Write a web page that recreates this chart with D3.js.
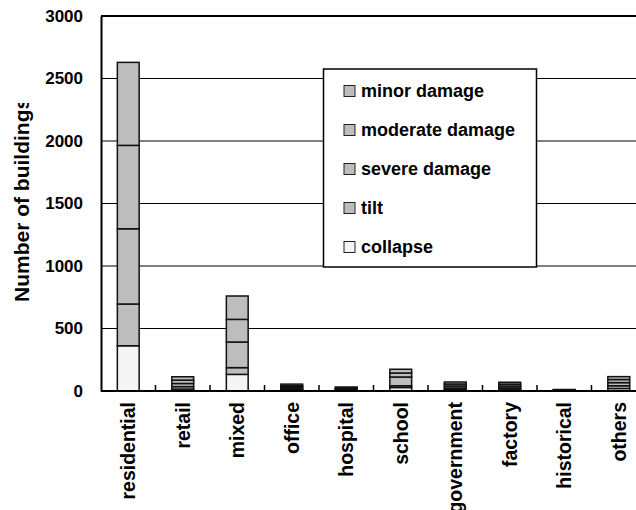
<!DOCTYPE html>
<html><head><meta charset="utf-8">
<script src="https://cdn.jsdelivr.net/npm/d3@7/dist/d3.min.js"></script>
<style>body{margin:0;background:#fff;}svg{display:block;}text{font-family:"Liberation Sans",Arial,sans-serif;font-weight:bold;fill:#000;}</style>
</head><body>
<svg id="c" width="636" height="510"></svg>
<script>
const categories = ["residential","retail","mixed","office","hospital","school","government","factory","historical","others"];
const collapse = [362, 15, 133, 10, 6, 28, 12, 15, 2, 20];
const tilt     = [334, 20, 54, 8, 6, 14, 12, 10, 2, 22];
const severe   = [602, 25, 205, 12, 6, 70, 16, 15, 3, 25];
const moderate = [667, 27, 181, 12, 7, 32, 16, 15, 3, 25];
const minor    = [664, 27, 187, 13, 7, 30, 16, 15, 2, 23];
const seriesNames = ["collapse","tilt","severe damage","moderate damage","minor damage"];
const seriesColors = ["#f5f5f5","#bdbdbd","#bdbdbd","#bdbdbd","#bdbdbd"];
const yTicks = [0,500,1000,1500,2000,2500,3000];

const svg = d3.select("#c");
const L = 101, R = 646, T = 16, B = 391;
const x = d3.scaleBand().domain(categories).range([L, R]).paddingInner(0.6).paddingOuter(0.3);
const y = d3.scaleLinear().domain([0, 3000]).range([B, T]);

// gridlines
svg.append("g").selectAll("line").data(yTicks.filter(d => d > 0 && d < 3000)).join("line")
  .attr("x1", L).attr("x2", R).attr("y1", d => y(d)).attr("y2", d => y(d))
  .attr("stroke", "#000").attr("stroke-width", 1);
// top border
svg.append("line").attr("x1", L).attr("x2", R).attr("y1", y(3000)).attr("y2", y(3000))
  .attr("stroke", "#000").attr("stroke-width", 2);

// stacked data
const rows = categories.map((c, i) => ({cat: c, s0: collapse[i], s1: tilt[i], s2: severe[i], s3: moderate[i], s4: minor[i]}));
const stack = d3.stack().keys(["s0","s1","s2","s3","s4"])(rows);
const gBars = svg.append("g");
stack.forEach((layer, li) => {
  gBars.append("g").selectAll("rect").data(layer).join("rect")
    .attr("x", d => x(d.data.cat)).attr("width", x.bandwidth())
    .attr("y", d => y(d[1])).attr("height", d => y(d[0]) - y(d[1]))
    .attr("fill", seriesColors[li]).attr("stroke", "#111").attr("stroke-width", 1.5);
});

// axes
const yAxis = d3.axisLeft(y).tickValues(yTicks).tickFormat(d3.format("d")).tickSize(0).tickPadding(18);
const gy = svg.append("g").attr("transform", `translate(${L},0)`).call(yAxis);
gy.select(".domain").attr("stroke", "#000").attr("stroke-width", 2);
gy.selectAll("text").style("font-size", "17px").style("font-family", '"Liberation Sans",Arial,sans-serif').style("font-weight", "bold");

// x axis line and boundary ticks
svg.append("line").attr("x1", L).attr("x2", R).attr("y1", B).attr("y2", B).attr("stroke", "#000").attr("stroke-width", 2);
const step = x.step();
svg.append("g").selectAll("line").data(d3.range(1, categories.length + 1)).join("line")
  .attr("x1", i => L + i * step).attr("x2", i => L + i * step)
  .attr("y1", B).attr("y2", B - 6).attr("stroke", "#000").attr("stroke-width", 1.5);

// x labels
svg.append("g").selectAll("text").data(categories).join("text")
  .attr("transform", d => `translate(${x(d) + x.bandwidth() / 2},402) rotate(-90)`)
  .attr("dy", "0.36em").attr("text-anchor", "end")
  .style("font-size", "19.5px").text(d => d);

// y title (clipped at the top, as in the reference)
svg.append("clipPath").attr("id", "tclip").append("rect").attr("x", 0).attr("y", 103).attr("width", 60).attr("height", 400);
svg.append("g").attr("clip-path", "url(#tclip)").append("text")
  .attr("transform", "translate(28.5,302) rotate(-90)")
  .attr("text-anchor", "start")
  .style("font-size", "21px").text("Number of buildings");

// legend
const lg = svg.append("g");
lg.append("rect").attr("x", 323.5).attr("y", 69).attr("width", 213).attr("height", 198)
  .attr("fill", "#fff").attr("stroke", "#000").attr("stroke-width", 1.5);
const legendOrder = [4,3,2,1,0];
legendOrder.forEach((si, k) => {
  const cy = 91 + k * 39;
  lg.append("rect").attr("x", 344).attr("y", cy - 5.5).attr("width", 11).attr("height", 11)
    .attr("fill", seriesColors[si]).attr("stroke", "#222").attr("stroke-width", 1);
  lg.append("text").attr("x", 361).attr("y", cy).attr("dy", "0.36em")
    .style("font-size", "18px").text(seriesNames[si]);
});
</script>
</body></html>
